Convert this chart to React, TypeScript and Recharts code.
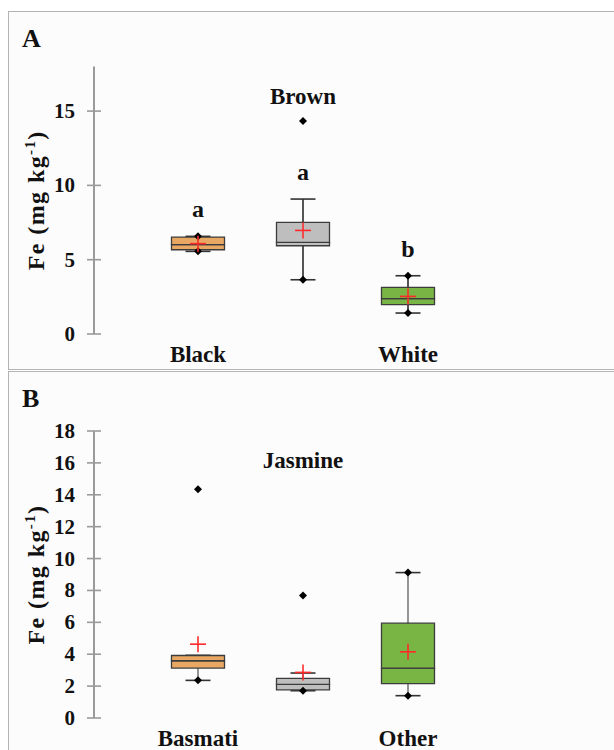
import { ComposedChart, Bar, Cell, Scatter, XAxis, YAxis, LabelList } from "recharts"

// Panel A: Brown / Black / White rice
const groupsA = ["Black", "Brown", "White"]
const q1A = [5.67, 5.94, 1.97]
const medianA = [6.01, 6.17, 2.38]
const q3A = [6.52, 7.51, 3.14]
const whiskerLowA = [5.56, 3.65, 1.41]
const whiskerHighA = [6.57, 9.08, 3.92]
const minA = [5.56, 3.65, 1.41]
const maxA = [6.57, 14.33, 3.92]
const meanA = [6.08, 6.97, 2.53]
const lettersA = ["a", "a", "b"]
const ticksA = [0, 5, 10, 15]

// Panel B: Basmati / Jasmine / Other
const groupsB = ["Basmati", "Jasmine", "Other"]
const q1B = [3.13, 1.77, 2.15]
const medianB = [3.59, 2.11, 3.13]
const q3B = [3.92, 2.48, 5.95]
const whiskerLowB = [2.36, 1.71, 1.4]
const whiskerHighB = [3.93, 2.82, 9.12]
const minB = [2.36, 1.71, 1.4]
const maxB = [14.34, 7.68, 9.12]
const meanB = [4.63, 2.86, 4.15]
const lettersB = ["", "", ""]
const ticksB = [0, 2, 4, 6, 8, 10, 12, 14, 16, 18]

const boxColors = ["#E8A864", "#BEBEBE", "#79B545"]
const FONT = "'Liberation Serif', 'Times New Roman', serif"

const buildRows = (
  groups: string[], q1: number[], med: number[], q3: number[],
  wLo: number[], wHi: number[], mn: number[], mx: number[],
  mean: number[], letters: string[]
) =>
  groups.map((g, i) => ({
    group: g,
    base: q1[i],
    lower: med[i] - q1[i],
    upper: q3[i] - med[i],
    whisker: [wLo[i], wHi[i]],
    min: mn[i],
    max: mx[i],
    mean: mean[i],
    letter: letters[i],
  }))

const rowsA = buildRows(groupsA, q1A, medianA, q3A, whiskerLowA, whiskerHighA, minA, maxA, meanA, lettersA)
const rowsB = buildRows(groupsB, q1B, medianB, q3B, whiskerLowB, whiskerHighB, minB, maxB, meanB, lettersB)

const Diamond = (props: any) => {
  const { cx, cy } = props
  return <path d={`M${cx},${cy - 4} L${cx + 4},${cy} L${cx},${cy + 4} L${cx - 4},${cy} Z`} fill="#000" />
}

const Cross = (props: any) => {
  const { cx, cy } = props
  return (
    <g stroke="#FF2B2B" strokeWidth={1.6}>
      <line x1={cx - 8} x2={cx + 8} y1={cy} y2={cy} />
      <line x1={cx} x2={cx} y1={cy - 8} y2={cy + 8} />
    </g>
  )
}

const makeWhisker = (color: string) => (props: any) => {
  const { x, y, width, height } = props
  const top = Math.min(y, y + height)
  const bot = Math.max(y, y + height)
  const cx = x + width / 2
  return (
    <g stroke={color} strokeWidth={1.6}>
      <line x1={cx} x2={cx} y1={top} y2={bot} />
      <line x1={x} x2={x + width} y1={top} y2={top} stroke="#333" />
      <line x1={x} x2={x + width} y1={bot} y2={bot} stroke="#333" />
    </g>
  )
}

const YTick = (props: any) => {
  const { x, y, payload } = props
  return (
    <g>
      <line x1={x - 7} x2={x + 7} y1={y} y2={y} stroke="#9A9A9A" strokeWidth={1.6} />
      <text x={x - 19} y={y} dy={7} textAnchor="end" fontFamily={FONT} fontWeight="bold" fontSize={21} fill="#111">
        {payload.value}
      </text>
    </g>
  )
}

const YTitle = (props: any) => {
  const { viewBox } = props
  const cx = viewBox.x + 36
  const cy = viewBox.y + viewBox.height / 2
  return (
    <text
      x={cx}
      y={cy}
      transform={`rotate(-90 ${cx} ${cy})`}
      textAnchor="middle"
      fontFamily={FONT}
      fontWeight="bold"
      fontSize={24}
      letterSpacing={1.4}
      fill="#111"
    >
      <tspan>Fe (mg kg</tspan>
      <tspan dy={-9} fontSize={15}>-1</tspan>
      <tspan dy={9}>)</tspan>
    </text>
  )
}

type PanelProps = {
  rows: any[]
  ticks: number[]
  height: number
  top: number
  axisHeight: number
  whiskerColor: string
}

const BoxPanel = ({ rows, ticks, height, top, axisHeight, whiskerColor }: PanelProps) => {
  const XTick = (props: any) => {
    const { x, y, payload, index } = props
    const ty = index === 1 ? top + 37 : y + 28
    return (
      <text x={x} y={ty} textAnchor="middle" fontFamily={FONT} fontWeight="bold" fontSize={23} fill="#111">
        {payload.value}
      </text>
    )
  }
  const padding = { left: 51.5, right: 153.5 }
  return (
    <ComposedChart width={606} height={height} data={rows} margin={{ top, right: 0, bottom: 0, left: 0 }}>
      <XAxis
        dataKey="group"
        padding={padding}
        axisLine={false}
        tickLine={false}
        tickSize={0}
        tickMargin={0}
        interval={0}
        height={axisHeight}
        tick={XTick}
      />
      <XAxis xAxisId="w" dataKey="group" padding={padding} hide />
      <YAxis
        domain={[0, 18]}
        ticks={ticks}
        width={86}
        axisLine={{ stroke: "#9A9A9A", strokeWidth: 2 }}
        tickLine={false}
        tickSize={0}
        tickMargin={0}
        tick={YTick}
        label={{ content: YTitle }}
      />
      <Bar xAxisId="w" dataKey="whisker" barSize={25} shape={makeWhisker(whiskerColor)} isAnimationActive={false}>
        <LabelList dataKey="letter" position="top" offset={19} fontFamily={FONT} fontWeight="bold" fontSize={24} fill="#111" />
      </Bar>
      <Bar dataKey="base" stackId="box" fill="transparent" barSize={53} isAnimationActive={false} />
      <Bar dataKey="lower" stackId="box" stroke="#3C3C3C" strokeWidth={1.3} barSize={53} isAnimationActive={false}>
        {rows.map((_, i) => <Cell key={i} fill={boxColors[i]} />)}
      </Bar>
      <Bar dataKey="upper" stackId="box" stroke="#3C3C3C" strokeWidth={1.3} barSize={53} isAnimationActive={false}>
        {rows.map((_, i) => <Cell key={i} fill={boxColors[i]} />)}
      </Bar>
      <Scatter dataKey="min" shape={Diamond} isAnimationActive={false} />
      <Scatter dataKey="max" shape={Diamond} isAnimationActive={false} />
      <Scatter dataKey="mean" shape={Cross} isAnimationActive={false} />
    </ComposedChart>
  )
}

const panelStyle: React.CSSProperties = {
  position: "absolute",
  left: 8,
  width: 620,
  border: "1.5px solid #B4B4B4",
  background: "#FCFCFC",
  boxSizing: "border-box",
}

const letterStyle: React.CSSProperties = {
  position: "absolute",
  left: 22,
  fontFamily: FONT,
  fontWeight: "bold",
  fontSize: 26,
  color: "#111",
  lineHeight: 1,
}

export default function App() {
  return (
    <div style={{ position: "absolute", left: 0, top: 0, width: 614, height: 750, overflow: "hidden", background: "#fff" }}>
      <div style={{ ...panelStyle, top: 11, height: 359 }} />
      <div style={{ ...panelStyle, top: 371, height: 400 }} />
      <div style={{ position: "absolute", left: 8, top: 12 }}>
        <BoxPanel rows={rowsA} ticks={ticksA} height={358} top={54.5} axisHeight={36} whiskerColor="#2A2A2A" />
      </div>
      <div style={{ position: "absolute", left: 8, top: 372 }}>
        <BoxPanel rows={rowsB} ticks={ticksB} height={390} top={59} axisHeight={44} whiskerColor="#7A7A7A" />
      </div>
      <div style={{ ...letterStyle, top: 26 }}>A</div>
      <div style={{ ...letterStyle, top: 386 }}>B</div>
    </div>
  )
}
